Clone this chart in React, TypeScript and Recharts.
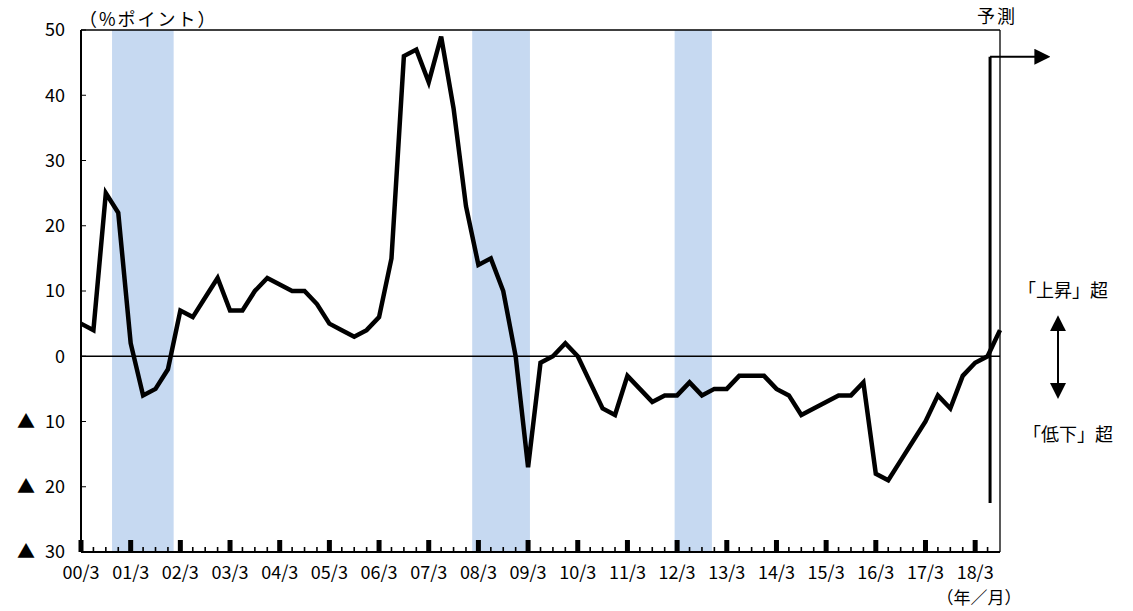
import React from 'react';
import { LineChart, Line, XAxis, YAxis, ReferenceLine, ReferenceArea } from 'recharts';

// Quarter index 0 = 2000/3 ... 74 = 2018/9 (forecast)
const values: number[] = [
  5, 4, 25, 22, 2, -6, -5, -2, 7, 6, 9, 12, 7, 7, 10, 12, 11, 10, 10, 8,
  5, 4, 3, 4, 6, 15, 46, 47, 42, 49, 38, 23, 14, 15, 10, 0, -17, -1, 0, 2,
  0, -4, -8, -9, -3, -5, -7, -6, -6, -4, -6, -5, -5, -3, -3, -3, -5, -6, -9, -8,
  -7, -6, -6, -4, -18, -19, -16, -13, -10, -6, -8, -3, -1, 0, 4,
];
const yearLabels: string[] = [
  '00/3', '01/3', '02/3', '03/3', '04/3', '05/3', '06/3', '07/3', '08/3', '09/3',
  '10/3', '11/3', '12/3', '13/3', '14/3', '15/3', '16/3', '17/3', '18/3',
];
const yTicks: number[] = [-30, -20, -10, 0, 10, 20, 30, 40, 50];
const recessions = [
  { x1: 2.5, x2: 7.46 },
  { x1: 31.5, x2: 36.15 },
  { x1: 47.8, x2: 50.8 },
];
const forecastX = 73.2;

const data = values.map((v, i) => ({ q: i, v }));
const xTicks = values.slice(0, values.length - 1).map((_, i) => i);

const FONT = '"Noto Sans CJK JP", "Noto Sans", sans-serif';

const XTick = (props: any) => {
  const { x, y, payload } = props;
  const i = payload.value as number;
  const major = i % 4 === 0;
  return (
    <g>
      {major ? (
        <rect x={x - 2.5} y={y - 12} width={5} height={12} fill="#000" />
      ) : (
        <rect x={x - 0.8} y={y - 5} width={1.6} height={5} fill="#000" />
      )}
      {major && (
        <text x={x} y={y + 21} dy="0.35em" textAnchor="middle" fontSize={18} fontFamily={FONT} fill="#000">
          {yearLabels[i / 4]}
        </text>
      )}
    </g>
  );
};

const YTick = (props: any) => {
  const { x, y, payload } = props;
  const v = payload.value as number;
  return (
    <g>
      <line x1={x} x2={x + 5} y1={y} y2={y} stroke="#000" strokeWidth={1} />
      {v < 0 && (
        <text x={x - 55} y={y} dy="0.35em" textAnchor="middle" fontSize={18} fontFamily={FONT} fill="#000">
          ▲
        </text>
      )}
      <text x={x - 16} y={y} dy="0.35em" textAnchor="end" fontSize={18} fontFamily={FONT} fill="#000">
        {Math.abs(v)}
      </text>
    </g>
  );
};

const arrowLine = (marker: 'end' | 'both', width: number) => (p: any) => (
  <line
    x1={p.x1}
    y1={p.y1}
    x2={p.x2}
    y2={p.y2}
    stroke="#000"
    strokeWidth={width}
    markerEnd="url(#arrowHead)"
    markerStart={marker === 'both' ? 'url(#arrowHead)' : undefined}
  />
);

export default function App() {
  return (
    <div style={{ position: 'absolute', left: 0, top: 0, width: 1133, height: 611, background: '#fff' }}>
      <svg width={0} height={0} style={{ position: 'absolute' }}>
        <defs>
          <marker
            id="arrowHead"
            markerUnits="userSpaceOnUse"
            markerWidth={16}
            markerHeight={16}
            refX={1}
            refY={8}
            orient="auto-start-reverse"
            viewBox="0 0 16 16"
          >
            <path d="M0,0 L16,8 L0,16 Z" fill="#000" />
          </marker>
        </defs>
      </svg>
      <LineChart width={1133} height={611} data={data} margin={{ top: 30, right: 133, left: 0, bottom: 0 }}>
        {recessions.map((r, k) => (
          <ReferenceArea key={k} x1={r.x1} x2={r.x2} y1={-30} y2={50} fill="#c6d9f1" fillOpacity={1} stroke="none" />
        ))}
        <XAxis
          dataKey="q"
          type="number"
          domain={[0, 74]}
          ticks={xTicks}
          interval={0}
          tick={<XTick />}
          tickLine={false}
          tickSize={0}
          tickMargin={0}
          height={59}
          axisLine={{ stroke: '#000', strokeWidth: 2 }}
          allowDecimals
        />
        <YAxis
          type="number"
          domain={[-30, 50]}
          ticks={yTicks}
          interval={0}
          tick={<YTick />}
          tickLine={false}
          tickSize={0}
          tickMargin={0}
          width={81}
          axisLine={{ stroke: '#000', strokeWidth: 2 }}
        />
        <ReferenceLine y={50} stroke="#000" strokeWidth={1.3} />
        <ReferenceLine x={74} stroke="#000" strokeWidth={1.3} />
        <ReferenceLine y={0} stroke="#000" strokeWidth={1.5} />
        <ReferenceLine
          segment={[{ x: forecastX, y: 45.9 }, { x: forecastX, y: -22.5 }]}
          stroke="#000"
          strokeWidth={3}
          ifOverflow="visible"
        />
        <ReferenceLine
          segment={[{ x: forecastX, y: 45.9 }, { x: 76.85, y: 45.9 }]}
          ifOverflow="visible"
          shape={arrowLine('end', 2)}
        />
        <ReferenceLine
          segment={[{ x: 78.67, y: 4.0 }, { x: 78.67, y: -4.25 }]}
          ifOverflow="visible"
          shape={arrowLine('both', 2)}
        />
        <Line
          type="linear"
          dataKey="v"
          stroke="#000"
          strokeWidth={4.5}
          dot={false}
          isAnimationActive={false}
        />
      </LineChart>
      <svg
        width={1133}
        height={611}
        style={{ position: 'absolute', left: 0, top: 0, pointerEvents: 'none' }}
        fontFamily={FONT}
      >
        <text x={79} y={20} dy="0.35em" fontSize={18} letterSpacing={2} fill="#000">（%ポイント）</text>
        <text x={997} y={17} dy="0.35em" fontSize={18} letterSpacing={2} textAnchor="middle" fill="#000">予測</text>
        <text x={1063} y={291} dy="0.35em" fontSize={18} textAnchor="middle" fill="#000">「上昇」超</text>
        <text x={1068} y={435} dy="0.35em" fontSize={18} textAnchor="middle" fill="#000">「低下」超</text>
        <text x={979} y={598} dy="0.35em" fontSize={17} textAnchor="middle" fill="#000">（年／月）</text>
      </svg>
    </div>
  );
}
